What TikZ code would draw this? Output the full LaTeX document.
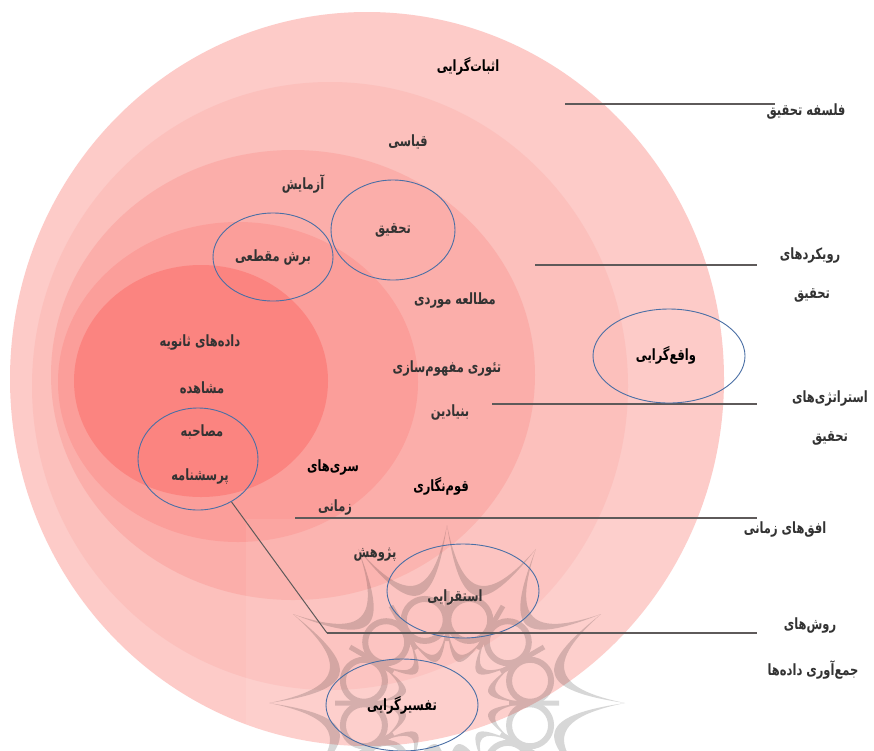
\documentclass[tikz,border=0pt]{standalone}
\usepackage{fontspec}
\usetikzlibrary{shapes.geometric}
\TeXXeTstate=1
\newfontfamily\arabicfont[Script=Arabic,FakeStretch=0.74]{DejaVu Sans}
\newcommand{\ar}[1]{\beginR #1\endR}
\definecolor{ringA}{HTML}{FDCBC8}
\definecolor{ringB}{HTML}{FCC0BC}
\definecolor{ringC}{HTML}{FBAEAA}
\definecolor{ringD}{HTML}{FB9E9A}
\definecolor{ringE}{HTML}{FB8480}
\definecolor{ovalblue}{HTML}{4A6FA5}
\definecolor{leader}{HTML}{5E5A5A}
\tikzset{
  ring/.style={draw=none},
  lab/.style={font=\arabicfont\bfseries\fontsize{15.5}{17}\selectfont, text=black!80, inner sep=0pt},
  labb/.style={font=\arabicfont\bfseries\fontsize{15.5}{17}\selectfont, text=black, inner sep=0pt},
  oval/.style={draw=ovalblue, line width=0.9pt, ellipse, inner sep=0pt},
  leadline/.style={draw=leader, line width=1.5pt}
}
\begin{document}
\begin{tikzpicture}[x=1pt,y=-1pt]
\fill[white] (0,0) rectangle (874,750);
\useasboundingbox (0,0) rectangle (874,750);
\begin{scope}
\clip (0,0) rectangle (874,750);
\fill[ring,ringA] (367,379) ellipse [x radius=357,y radius=367];
\fill[ring,ringB] (330,386) ellipse [x radius=298,y radius=304];
\fill[ring,ringC] (293,375) ellipse [x radius=242,y radius=225];
\fill[ring,ringD] (238,382) ellipse [x radius=180,y radius=160];
\fill[ring,ringE] (201,381) ellipse [x radius=127,y radius=116];
% watermark
\begin{scope}[shift={(447,703)},transparency group,opacity=0.17]
\foreach \i in {0,...,11}{
  \pgfmathsetmacro{\a}{\i*30}
  \pgfmathsetmacro{\b}{\i*30+8}
  \pgfmathsetmacro{\c}{\i*30+22}
  \pgfmathsetmacro{\d}{\i*30+30}
  \pgfmathsetmacro{\m}{\i*30+15}
  \fill[black] (\a:178) .. controls (\b:106) and (\c:106) .. (\d:178)
     .. controls (\c:92) and (\b:92) .. cycle;
  \draw[black,line width=6pt] (\m:86) circle (21);
  \draw[black,line width=5pt] (\a:112) -- (\a:62);
  \fill[black] (\a:78) .. controls (\b:42) and (\c:42) .. (\d:78)
     .. controls (\c:32) and (\b:32) .. cycle;
}
\end{scope}
\fill[white,opacity=0.08] (246,519) rectangle (874,750);
\end{scope}
% named line ends
\coordinate (a1) at (565,104); \coordinate (a2) at (775,104);
\coordinate (b1) at (535,265); \coordinate (b2) at (757,265);
\coordinate (c1) at (492,404); \coordinate (c2) at (757,404);
\coordinate (d1) at (295,518); \coordinate (d2) at (757,518);
\coordinate (e1) at (327,633); \coordinate (e2) at (757,633);
\draw[leadline] (a1) -- (a2);
\draw[leadline] (b1) -- (b2);
\draw[leadline] (c1) -- (c2);
\draw[leadline] (d1) -- (d2);
% ovals
\node[oval,minimum width=124pt,minimum height=100pt] (ovalTahqiq) at (393,230) {};
\node[oval,minimum width=120pt,minimum height=88pt] (ovalBorsh) at (273,257) {};
\node[oval,minimum width=120pt,minimum height=102pt] (ovalPors) at (198,459) {};
\node[oval,minimum width=152pt,minimum height=94pt] (ovalVaghe) at (669,356) {};
\node[oval,minimum width=152pt,minimum height=94pt] (ovalEst) at (463,591) {};
\begin{scope}
\clip (0,0) rectangle (874,750);
\node[oval,minimum width=152pt,minimum height=92pt] (ovalTafsir) at (402,705) {};
\end{scope}
\draw[leadline,line width=1pt] (ovalPors.-52) -- (e1);
\draw[leadline] (e1) -- (e2);
% labels
\node[labb] (t1) at (468,66) {\ar{اثبات‌گرایی}};
\node[lab] (t2) at (806,112) {\ar{فلسفه تحقیق}};
\node[lab] (t3) at (408,142) {\ar{قیاسی}};
\node[lab] (t4) at (303,184) {\ar{آزمایش}};
\node[lab] (t5) at (393,230) {\ar{تحقیق}};
\node[lab] (t6) at (273,257) {\ar{برش مقطعی}};
\node[lab] (t7) at (455,300) {\ar{مطالعه موردی}};
\node[lab] (t8) at (810,255) {\ar{رویکردهای}};
\node[lab] (t9) at (812,295) {\ar{تحقیق}};
\node[lab] (t10) at (200,342) {\ar{داده‌های ثانویه}};
\node[lab] (t11) at (202,388) {\ar{مشاهده}};
\node[lab] (t12) at (202,432) {\ar{مصاحبه}};
\node[lab] (t13) at (200,476) {\ar{پرسشنامه}};
\node[lab] (t14) at (447,368) {\ar{تئوری مفهوم‌سازی}};
\node[lab] (t15) at (450,412) {\ar{بنیادین}};
\node[labb] (t16) at (666,355) {\ar{واقع‌گرایی}};
\node[lab] (t17) at (830,398) {\ar{استراتژی‌های}};
\node[lab] (t18) at (830,438) {\ar{تحقیق}};
\node[labb] (t19) at (333,467) {\ar{سری‌های}};
\node[lab] (t20) at (335,507) {\ar{زمانی}};
\node[labb] (t21) at (441,486) {\ar{قوم‌نگاری}};
\node[lab] (t22) at (785,530) {\ar{افق‌های زمانی}};
\node[lab] (t23) at (375,555) {\ar{پژوهش}};
\node[lab] (t24) at (455,597) {\ar{استقرایی}};
\node[lab] (t25) at (810,625) {\ar{روش‌های}};
\node[lab] (t26) at (813,670) {\ar{جمع‌آوری داده‌ها}};
\node[labb] (t27) at (402,705) {\ar{تفسیرگرایی}};
\end{tikzpicture}
\end{document}
